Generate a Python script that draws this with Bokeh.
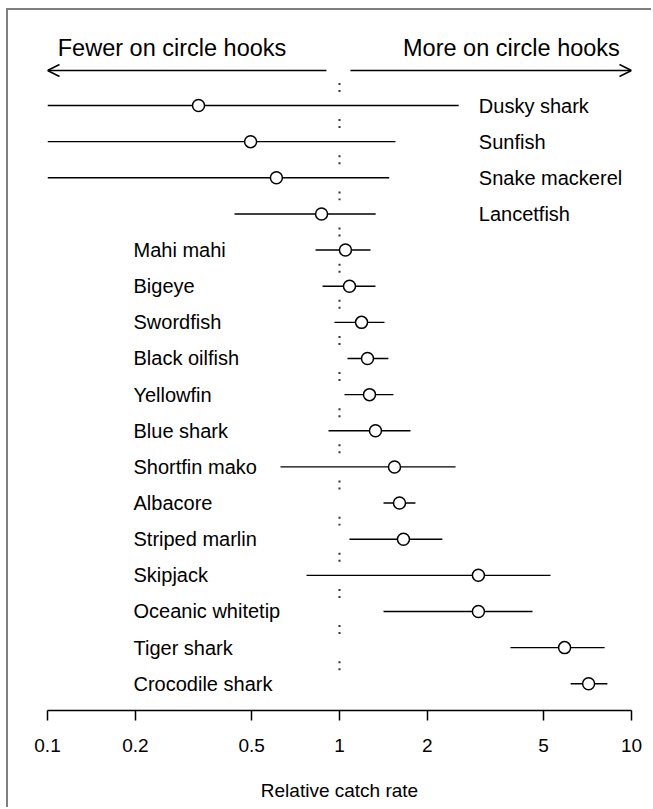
from bokeh.plotting import figure
from bokeh.models import Range1d, FixedTicker, Arrow, OpenHead, ColumnDataSource
from bokeh.embed import file_html
from bokeh.resources import INLINE
from bokeh.core.properties import value

species = ["Dusky shark", "Sunfish", "Snake mackerel", "Lancetfish", "Mahi mahi",
           "Bigeye", "Swordfish", "Black oilfish", "Yellowfin", "Blue shark",
           "Shortfin mako", "Albacore", "Striped marlin", "Skipjack",
           "Oceanic whitetip", "Tiger shark", "Crocodile shark"]
estimate = [0.329, 0.496, 0.608, 0.868, 1.048, 1.082, 1.19, 1.247, 1.267, 1.328,
            1.543, 1.605, 1.656, 2.99, 2.99, 5.9, 7.13]
lower = [0.1, 0.1, 0.1, 0.437, 0.828, 0.875, 0.961, 1.065, 1.04, 0.917,
         0.628, 1.415, 1.082, 0.771, 1.415, 3.85, 6.19]
upper = [2.56, 1.555, 1.48, 1.33, 1.277, 1.328, 1.426, 1.47, 1.53, 1.75,
         2.497, 1.82, 2.25, 5.28, 4.58, 8.09, 8.27]
label_side = ["right"] * 4 + ["left"] * 13
tick_values = [0.1, 0.2, 0.5, 1, 2, 5, 10]
tick_labels = ["0.1", "0.2", "0.5", "1", "2", "5", "10"]
header_left = "Fewer on circle hooks"
header_right = "More on circle hooks"
x_title = "Relative catch rate"

FONT = "Liberation Sans"
rows = list(range(len(species)))
left_x, right_x = 0.197, 3.0

src = ColumnDataSource(dict(row=rows, est=estimate, lo=lower, hi=upper, name=species,
                            lab_x=[right_x if s == "right" else left_x for s in label_side]))

p = figure(width=645, height=799, x_axis_type="log",
           x_range=Range1d(0.1, 10), y_range=Range1d(16.74, -2.629),
           output_backend="svg", toolbar_location=None, y_axis_location=None,
           min_border_left=39, min_border_right=22, min_border_top=0, min_border_bottom=99,
           styles={"border-left": "2px solid #7f7f7f", "border-top": "2px solid #7f7f7f",
                   "margin-left": "6px", "margin-top": "8px"})
p.grid.visible = False
p.outline_line_color = None

# dotted reference at 1 (colon marks between rows)
mids = [r - 0.5 for r in rows]
p.segment(x0=[1] * len(mids), y0=[m - 0.124 for m in mids], x1=[1] * len(mids),
          y1=[m + 0.124 for m in mids], line_color="#333333", line_width=2, line_dash="2 5")

p.segment(x0="lo", y0="row", x1="hi", y1="row", source=src, line_color="black", line_width=1.4)
p.scatter(x="est", y="row", source=src, size=12, fill_color="white",
          line_color="black", line_width=1.5)
p.text(x="lab_x", y="row", text="name", source=src, text_font=value(FONT),
       text_font_size="20px", text_baseline="middle", text_align="left", text_color="black")

# headers with arrows
p.text(x=[0.267, 3.88], y=[-1.605, -1.605], text=[header_left, header_right],
       text_font=value(FONT), text_font_size="23.5px", text_baseline="middle",
       text_align="center", text_color="black")
p.add_layout(Arrow(end=OpenHead(size=12, line_width=1.5), x_start=0.902, y_start=-0.968,
                   x_end=0.1, y_end=-0.968, line_width=1.5, line_color="black"))
p.add_layout(Arrow(end=OpenHead(size=12, line_width=1.5), x_start=1.09, y_start=-0.968,
                   x_end=10, y_end=-0.968, line_width=1.5, line_color="black"))

ax = p.xaxis[0]
ax.ticker = FixedTicker(ticks=tick_values, minor_ticks=[])
ax.major_label_overrides = {float(v): l for v, l in zip(tick_values, tick_labels)}
ax.axis_line_width = 1.5
ax.major_tick_line_width = 1.5
ax.major_tick_out = 10
ax.major_tick_in = 0
ax.minor_tick_out = 0
ax.minor_tick_in = 0
ax.major_label_standoff = 18
ax.major_label_text_font = FONT
ax.major_label_text_font_size = "19px"
ax.major_label_text_color = "black"
ax.axis_label = x_title
ax.axis_label_text_font = FONT
ax.axis_label_text_font_size = "19px"
ax.axis_label_text_font_style = "normal"
ax.axis_label_standoff = 25
ax.axis_label_text_color = "black"

open("out.html", "w").write(file_html(p, INLINE))
